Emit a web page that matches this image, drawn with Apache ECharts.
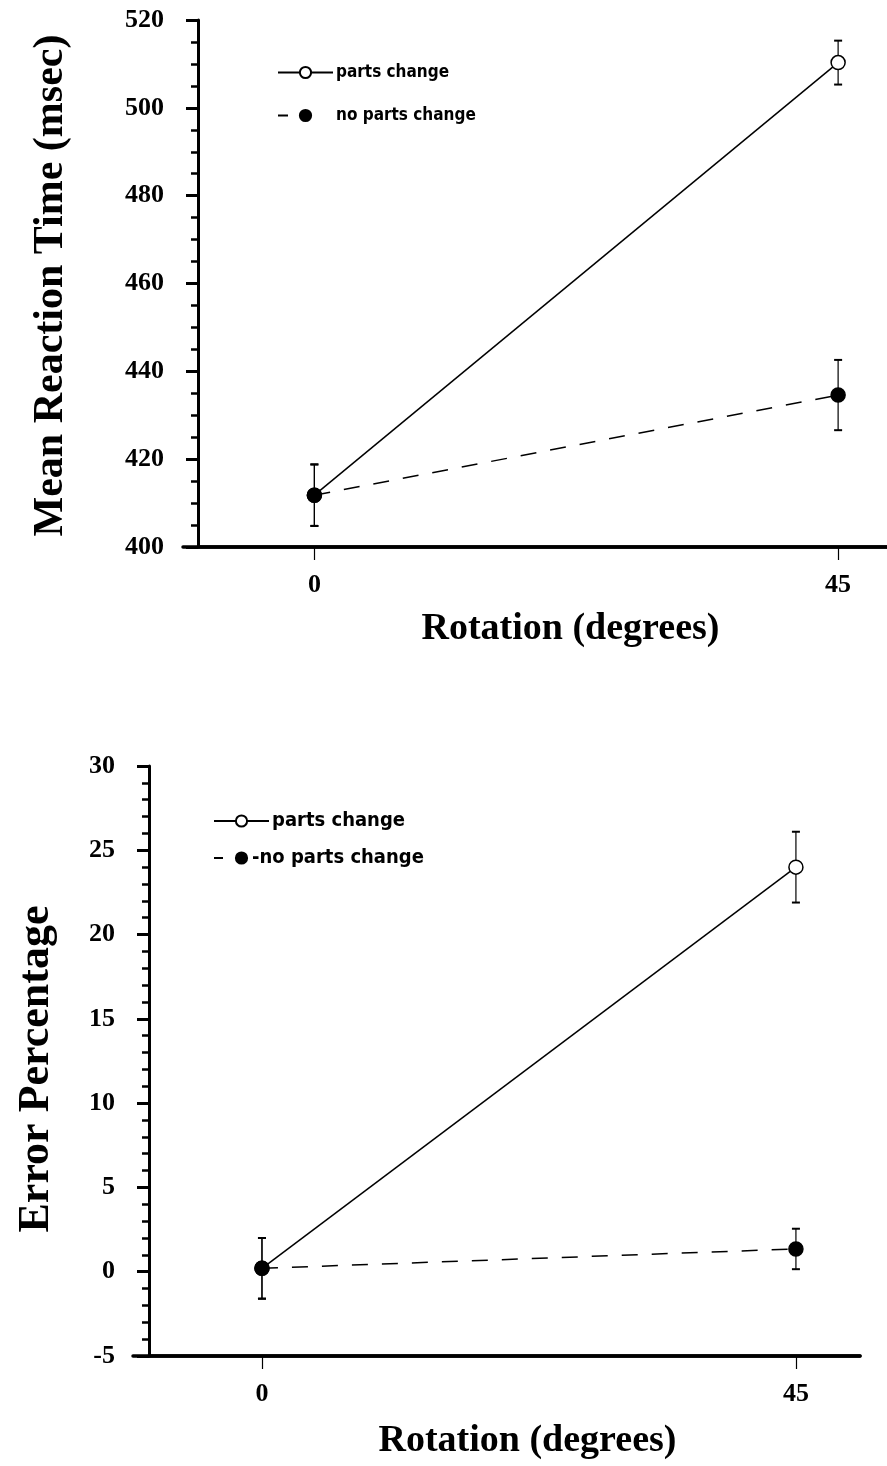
<!DOCTYPE html>
<html>
<head>
<meta charset="utf-8">
<script src="https://cdn.jsdelivr.net/npm/echarts@6/dist/echarts.min.js"></script>
<style>html,body{margin:0;padding:0;background:#fff;}#c{width:887px;height:1466px;}</style>
</head>
<body>
<div id="c"></div>
<script>
// ---- data ----
var rotations = [0, 45];
var xTickLabels = [0, 45];
var rtParts = [411.8, 510.3];
var rtPartsErr = [7, 5];
var rtNoParts = [411.8, 434.6];
var rtNoPartsErr = [7, 8];
var errParts = [0.2, 24];
var errPartsErr = [1.8, 2.1];
var errNoParts = [0.2, 1.35];
var errNoPartsErr = [1.8, 1.2];
var legendTop = ['parts change', 'no parts change'];
var legendBottom = ['parts change ', '-no parts change'];

var serif = "'Liberation Serif', 'DejaVu Serif', serif";
var sans = "'Liberation Sans Narrow', 'DejaVu Sans Condensed', 'Liberation Sans', sans-serif";

function pts(ys) { return rotations.map(function (r, i) { return [r, ys[i]]; }); }
function errPts(ys, es) { return rotations.map(function (r, i) { return [r, ys[i], es[i]]; }); }

function errorBar(params, api) {
  var x = api.value(0), y = api.value(1), e = api.value(2);
  var t = api.coord([x, y + e]);
  var b = api.coord([x, y - e]);
  var w = 4;
  var st = { stroke: '#000', lineWidth: 1.2 };
  return {
    type: 'group',
    children: [
      { type: 'line', shape: { x1: t[0], y1: t[1], x2: b[0], y2: b[1] }, style: st },
      { type: 'line', shape: { x1: t[0] - w, y1: t[1], x2: t[0] + w, y2: t[1] }, style: { stroke: '#000', lineWidth: 2 } },
      { type: 'line', shape: { x1: b[0] - w, y1: b[1], x2: b[0] + w, y2: b[1] }, style: { stroke: '#000', lineWidth: 2 } }
    ]
  };
}

function yAxisCfg(gi, min, max, interval, split, name, nameGap, nameSize, namePad) {
  return {
    type: 'value', gridIndex: gi, min: min, max: max, interval: interval,
    name: name, nameLocation: 'middle', nameGap: nameGap,
    nameTextStyle: { fontFamily: serif, fontWeight: 'bold', fontSize: nameSize, color: '#000', padding: namePad },
    axisLine: { show: true, onZero: false, lineStyle: { color: '#000', width: 3 } },
    axisTick: { show: true, length: 12, lineStyle: { color: '#000', width: 3 } },
    minorTick: { show: true, splitNumber: split, length: 7, lineStyle: { color: '#000', width: 2.5 } },
    axisLabel: { margin: 34, fontFamily: serif, fontWeight: 'bold', fontSize: 26, color: '#000' },
    splitLine: { show: false }
  };
}

function xAxisCfg(gi, min, max, nameGap, padLeft) {
  return {
    type: 'value', gridIndex: gi, min: min, max: max,
    name: 'Rotation (degrees)', nameLocation: 'middle', nameGap: nameGap,
    nameTextStyle: { fontFamily: serif, fontWeight: 'bold', fontSize: 38, color: '#000', padding: [0, 0, 0, padLeft] },
    axisLine: { show: true, onZero: false, lineStyle: { color: '#000', width: 3.5 } },
    axisTick: { show: true, length: 13, customValues: xTickLabels, lineStyle: { color: '#000', width: 1.2 } },
    axisLabel: { margin: 25, customValues: xTickLabels, fontFamily: serif, fontWeight: 'bold', fontSize: 26, color: '#000' },
    splitLine: { show: false }
  };
}

function lineSeries(name, xi, data, filled, dashed) {
  return {
    type: 'line', name: name, xAxisIndex: xi, yAxisIndex: xi, data: data,
    symbol: 'circle', symbolSize: 14, z: filled ? 5 : 4,
    lineStyle: { color: '#000', width: 1.5, type: dashed ? [16, 14] : 'solid' },
    itemStyle: { color: filled ? '#000' : '#fff', borderColor: '#000', borderWidth: 1.5 },
    emphasis: { disabled: true }, animation: false
  };
}

function errSeries(xi, data) {
  return { type: 'custom', xAxisIndex: xi, yAxisIndex: xi, data: data, renderItem: errorBar, z: 2, silent: true, animation: false };
}

var chart = echarts.init(document.getElementById('c'), null, { renderer: 'canvas' });
chart.setOption({
  backgroundColor: '#fff',
  animation: false,
  grid: [
    { left: 198, top: 20, width: 689, height: 527 },
    { left: 149, top: 766, width: 711, height: 590 },
    { left: 183, top: 20, width: 704, height: 527 },
    { left: 133, top: 766, width: 727, height: 590 }
  ],
  xAxis: [
    xAxisCfg(0, -10, 49.2, 63, 56),
    xAxisCfg(1, -9.52, 50.4, 66, 46),
    { type: 'value', gridIndex: 2, min: 0, max: 1, axisLine: { show: true, onZero: false, lineStyle: { color: '#000', width: 3.5 } }, axisTick: { show: false }, axisLabel: { show: false }, splitLine: { show: false } },
    { type: 'value', gridIndex: 3, min: 0, max: 1, axisLine: { show: true, onZero: false, lineStyle: { color: '#000', width: 3.5 } }, axisTick: { show: false }, axisLabel: { show: false }, splitLine: { show: false } }
  ],
  yAxis: [
    yAxisCfg(0, 400, 520, 20, 4, 'Mean Reaction Time (msec)', 126, 42, [0, 4, 0, 0]),
    yAxisCfg(1, -5, 30, 5, 5, 'Error Percentage', 90, 44, [0, 16, 0, 0]),
    { type: 'value', gridIndex: 2, min: 0, max: 1, show: false },
    { type: 'value', gridIndex: 3, min: 0, max: 1, show: false }
  ],
  legend: [
    {
      data: [
        { name: legendTop[0] },
        { name: legendTop[1], lineStyle: { type: [10, 100] } }
      ],
      orient: 'vertical', left: 277, top: 64, padding: 0, itemWidth: 55, itemHeight: 14, itemGap: 26,
      selectedMode: false,
      textStyle: { fontFamily: sans, fontSize: 17, fontWeight: 'bold', color: '#000', padding: [0, 0, 0, -2] }
    },
    {
      data: [
        { name: legendBottom[0] },
        { name: legendBottom[1], lineStyle: { type: [9, 100] }, textStyle: { padding: [0, 0, 0, -22] } }
      ],
      orient: 'vertical', left: 213, top: 811, padding: 0, itemWidth: 55, itemHeight: 14, itemGap: 17,
      selectedMode: false,
      textStyle: { fontFamily: sans, fontSize: 20, fontWeight: 'bold', color: '#000', padding: [0, 0, 0, -2] }
    }
  ],
  series: [
    errSeries(0, errPts(rtParts, rtPartsErr)),
    errSeries(0, errPts(rtNoParts, rtNoPartsErr)),
    lineSeries(legendTop[0], 0, pts(rtParts), false, false),
    lineSeries(legendTop[1], 0, pts(rtNoParts), true, true),
    errSeries(1, errPts(errParts, errPartsErr)),
    errSeries(1, errPts(errNoParts, errNoPartsErr)),
    lineSeries(legendBottom[0], 1, pts(errParts), false, false),
    lineSeries(legendBottom[1], 1, pts(errNoParts), true, true)
  ]
});
</script>
</body>
</html>
